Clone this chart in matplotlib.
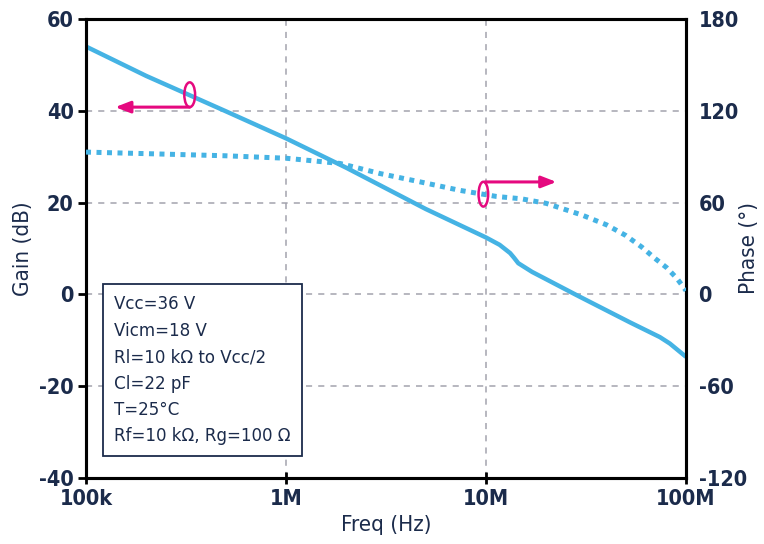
import numpy as np
import matplotlib
matplotlib.use("Agg")
import matplotlib.pyplot as plt
from matplotlib.patches import Ellipse

plt.rcParams['font.family'] = ['DejaVu Sans']
plt.rcParams['font.stretch'] = 'condensed'
plt.rcParams['axes.unicode_minus'] = False

# gain curve (Hz, dB)
gain_freq = [1e5, 2e5, 5e5, 1e6, 2e6, 5e6, 1e7, 1.17e7, 1.32e7, 1.38e7, 1.45e7,
             1.7e7, 2e7, 2.85e7, 5.25e7, 7.4e7, 8.3e7, 1e8]
gain_db = [54, 47.6, 39.9, 34, 27.6, 18.6, 12.4, 10.8, 9.0, 8.0, 6.8,
           4.9, 3.3, -0.2, -6.1, -9.3, -10.7, -13.6]

# phase curve (Hz, deg)
phase_freq = [1e5, 2e5, 5e5, 1e6, 1.86e6, 2.95e6, 4.7e6, 7.4e6, 1.13e7, 1.5e7,
              2e7, 3e7, 4e7, 5e7, 6e7, 7e7, 8e7, 9e7, 1e8]
phase_deg = [93, 92, 90.6, 89, 85.6, 79, 73.5, 68, 64, 62.5,
             59.5, 52, 45.5, 38.5, 31, 23.5, 17.5, 10.5, 2.5]

conditions = ["Vcc=36 V", "Vicm=18 V", "Rl=10 kΩ to Vcc/2", "Cl=22 pF",
              "T=25°C", "Rf=10 kΩ, Rg=100 Ω"]

blue = "#45b3e4"
pink = "#e5097f"
navy = "#1b2b4b"
grey = "#a3a3ad"

fig = plt.figure(figsize=(7.64, 5.44), dpi=100)
ax = fig.add_axes([86 / 764, 66 / 544, 600 / 764, 459 / 544])
ax2 = ax.twinx()

ax.plot(gain_freq, gain_db, color=blue, lw=3.2, solid_capstyle='butt', zorder=3)
ax2.plot(phase_freq, phase_deg, color=blue, lw=3.6, linestyle=(0, (1, 1.1)),
         dash_capstyle='butt', zorder=3)

ax.set_xscale('log')
ax.set_xlim(1e5, 1e8)
ax.set_ylim(-40, 60)
ax2.set_ylim(-120, 180)
ax.set_xticks([1e5, 1e6, 1e7, 1e8])
ax.set_xticklabels(["100k", "1M", "10M", "100M"])
ax.xaxis.set_minor_locator(matplotlib.ticker.NullLocator())
ax.set_yticks([-40, -20, 0, 20, 40, 60])
ax2.set_yticks([-120, -60, 0, 60, 120, 180])

ax.grid(True, which='major', color=grey, linestyle=(0, (4, 4)), lw=1.1)
ax.set_axisbelow(True)

for a in (ax, ax2):
    for s in a.spines.values():
        s.set_linewidth(2.2)
        s.set_color('black')

ax.tick_params(axis='y', direction='out', length=6, width=2, pad=3, labelsize=15.5,
               labelcolor=navy)
ax.tick_params(axis='x', direction='inout', length=8, width=2, pad=4, labelsize=15.5,
               labelcolor=navy)
ax2.tick_params(axis='y', direction='in', length=0, width=2, pad=9, labelsize=15.5,
                labelcolor=navy)
for lab in ax.get_xticklabels() + ax.get_yticklabels() + ax2.get_yticklabels():
    lab.set_fontweight('bold')

ax.set_xlabel("Freq (Hz)", fontsize=16, color=navy, labelpad=4)
ax.set_ylabel("Gain (dB)", fontsize=16, color=navy, labelpad=4)
ax2.set_ylabel("Phase (°)", fontsize=16, color=navy)
ax2.yaxis.set_label_coords((739 - 86) / 600, 0.5)


def xfrac(f):
    return np.log10(f / 1e5) / 3


# annotation markers: ellipse + arrow pointing to the matching axis
ax.add_patch(Ellipse((xfrac(3.3e5), (43.5 + 40) / 100), 0.018, 0.054,
                     transform=ax.transAxes, fill=False, ec=pink, lw=1.8, zorder=4))
ax.annotate("", xy=(1.4e5, 40.8), xytext=(3.3e5, 40.8),
            arrowprops=dict(arrowstyle='-|>,head_length=0.9,head_width=0.35',
                            color=pink, lw=2.2, shrinkA=0, shrinkB=0), zorder=4)
ax2.add_patch(Ellipse((xfrac(9.7e6), (65.5 + 120) / 300), 0.016, 0.054,
                      transform=ax2.transAxes, fill=False, ec=pink, lw=1.8, zorder=4))
ax2.annotate("", xy=(2.25e7, 73.5), xytext=(9.9e6, 73.5),
             arrowprops=dict(arrowstyle='-|>,head_length=0.9,head_width=0.35',
                             color=pink, lw=2.2, shrinkA=0, shrinkB=0), zorder=4)

# conditions box
ax.text(0.047, 0.398, "\n".join(conditions), transform=ax.transAxes, fontsize=13.3,
        color=navy, va='top', ha='left', linespacing=1.6, zorder=5,
        bbox=dict(boxstyle='square,pad=0.6', fc='white', ec=navy, lw=1.3))

fig.savefig("out.png", dpi=100)
